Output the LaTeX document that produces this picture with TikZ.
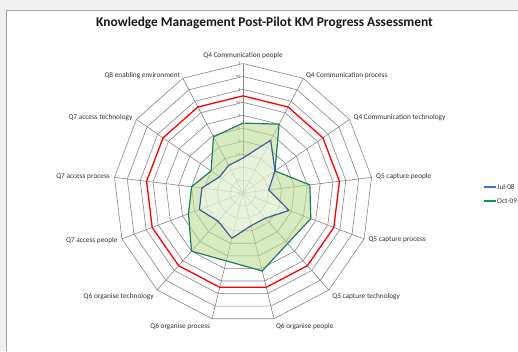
\documentclass[tikz,border=0pt]{standalone}
\usepackage{fontspec}
\setmainfont{Carlito}
\usepackage{tikz}

\definecolor{gridgray}{RGB}{135,135,135}
\definecolor{julblue}{RGB}{58,95,150}
\definecolor{octgreen}{RGB}{30,125,95}
\definecolor{octfill}{RGB}{190,220,150}
\definecolor{legblue}{RGB}{68,114,196}
\definecolor{leggreen}{RGB}{0,160,80}
\definecolor{labtext}{RGB}{50,50,50}

\tikzset{
  spoke/.style={gridgray, line width=0.6pt},
  ring/.style={gridgray, line width=0.6pt},
  axislabel/.style={font=\fontsize{7.3}{8}\selectfont, text=labtext, inner sep=1pt},
  ticklabel/.style={font=\fontsize{3.4}{4}\selectfont, text=labtext, inner sep=0.5pt, anchor=east}
}

\begin{document}
\begin{tikzpicture}[x=1pt, y=-1pt]
      \useasboundingbox (0,0) rectangle (518,351);
      \fill[black!6] (0,0) rectangle (518,351);
      \fill[white] (6,10) rectangle (518,351);
      \draw[black!35, line width=0.6pt] (6,351) -- (6,10) -- (518,10);
      \node[font=\bfseries\fontsize{13.4}{15}\selectfont, text=black!90] (title) at (264.5,23) {Knowledge Management Post-Pilot KM Progress Assessment};
      % grid
      \foreach \k in {0,...,12}
        \draw[spoke] (243,193) -- ({243+129.5*sin(\k*360/13)},{193-129.5*cos(\k*360/13)});
      \foreach \r in {0.5,1,...,5}
        \draw[ring] (243,{193-\r*25.9})
          \foreach \k in {1,...,12} { -- ({243+\r*25.9*sin(\k*360/13)},{193-\r*25.9*cos(\k*360/13)}) } -- cycle;
      \foreach \t in {0,0.5,1,1.5,2,2.5,3,3.5,4,4.5,5}
        \node[ticklabel] at (241,{193-\t*25.9}) {\t};
      % target
      \draw[red, line width=1.3pt] (243,{193-3.75*25.9})
        \foreach \k in {1,...,12} { -- ({243+3.75*25.9*sin(\k*360/13)},{193-3.75*25.9*cos(\k*360/13)}) } -- cycle;
      % data
      \foreach \v [count=\k from 0] in {2.7,3.0,1.5,2.6,2.8,2.6,3.1,2.7,3.0,2.25,2.0,1.5,2.45}
        \coordinate (oct\k) at ({243+\v*25.9*sin(\k*360/13)},{193-\v*25.9*cos(\k*360/13)});
      \foreach \v [count=\k from 0] in {1.35,2.3,1.5,1.0,1.9,1.3,1.3,1.8,1.45,1.8,1.6,1.1,1.2}
        \coordinate (jul\k) at ({243+\v*25.9*sin(\k*360/13)},{193-\v*25.9*cos(\k*360/13)});
      \fill[octfill, fill opacity=0.6] (oct0) \foreach \k in {1,...,12} { -- (oct\k) } -- cycle;
      \fill[white, fill opacity=0.45] (jul0) \foreach \k in {1,...,12} { -- (jul\k) } -- cycle;
      \draw[octgreen, line width=1.2pt, line join=round] (oct0) \foreach \k in {1,...,12} { -- (oct\k) } -- cycle;
      \draw[julblue, line width=1.2pt, line join=round] (jul0) \foreach \k in {1,...,12} { -- (jul\k) } -- cycle;
      % axis labels
      \foreach \txt/\anc [count=\k from 0] in {
          Q4 Communication people/south, Q4 Communication process/west,
          Q4 Communication technology/west, Q5 capture people/west,
          Q5 capture process/west, Q5 capture technology/north west,
          Q6 organise people/north west, Q6 organise process/north east,
          Q6 organise technology/north east, Q7 access people/east,
          Q7 access process/east, Q7 access technology/east,
          Q8 enabling environment/east}
        \node[axislabel, anchor=\anc] (lab\k) at ({243+133*sin(\k*360/13)},{193-133*cos(\k*360/13)}) {\txt};
      % legend
      \coordinate (jula) at (484,187);
      \coordinate (julb) at (496,187);
      \coordinate (octa) at (484,201);
      \coordinate (octb) at (496,201);
      \draw[legblue, line width=1.2pt] (jula) -- (julb);
      \draw[leggreen, line width=1.2pt] (octa) -- (octb);
      \node[axislabel, anchor=west] (legjul) at (julb) {Jul-08};
      \node[axislabel, anchor=west] (legoct) at (octb) {Oct-09};
\end{tikzpicture}
\end{document}
